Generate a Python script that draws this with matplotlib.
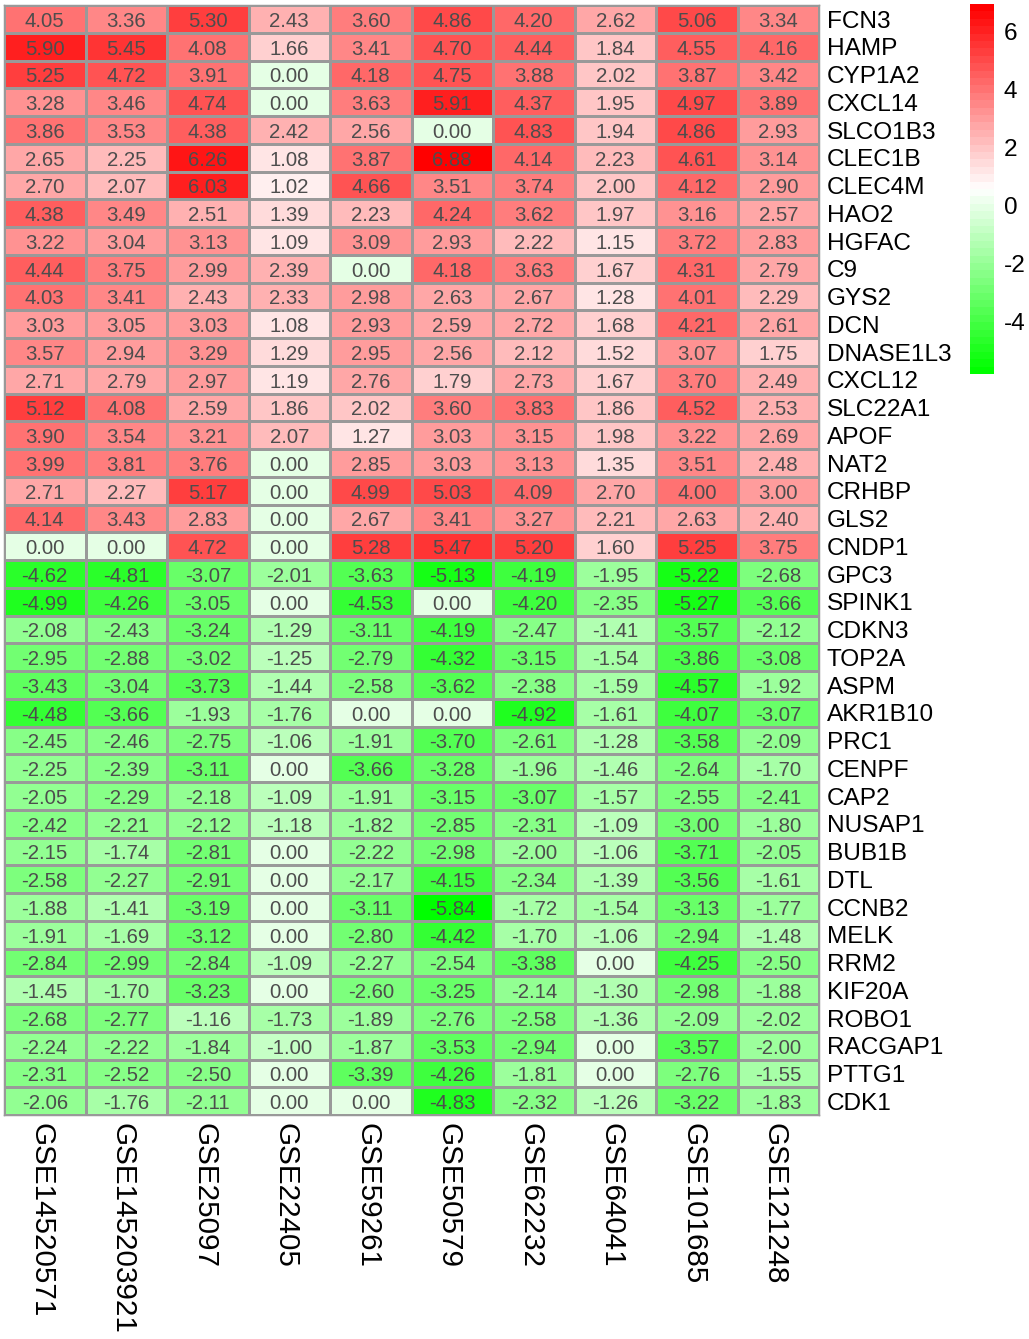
import matplotlib
matplotlib.use('Agg')
import matplotlib.pyplot as plt
from matplotlib.colors import LinearSegmentedColormap, BoundaryNorm
from matplotlib.transforms import ScaledTranslation
import numpy as np

plt.rcParams['font.family'] = ['Liberation Sans', 'DejaVu Sans']

genes = ['FCN3', 'HAMP', 'CYP1A2', 'CXCL14', 'SLCO1B3', 'CLEC1B', 'CLEC4M', 'HAO2',
         'HGFAC', 'C9', 'GYS2', 'DCN', 'DNASE1L3', 'CXCL12', 'SLC22A1', 'APOF',
         'NAT2', 'CRHBP', 'GLS2', 'CNDP1', 'GPC3', 'SPINK1', 'CDKN3', 'TOP2A',
         'ASPM', 'AKR1B10', 'PRC1', 'CENPF', 'CAP2', 'NUSAP1', 'BUB1B', 'DTL',
         'CCNB2', 'MELK', 'RRM2', 'KIF20A', 'ROBO1', 'RACGAP1', 'PTTG1', 'CDK1']

datasets = ['GSE14520571', 'GSE145203921', 'GSE25097', 'GSE22405', 'GSE59261',
            'GSE50579', 'GSE62232', 'GSE64041', 'GSE101685', 'GSE121248']

logfc = [
    [4.05, 3.36, 5.30, 2.43, 3.60, 4.86, 4.20, 2.62, 5.06, 3.34],
    [5.90, 5.45, 4.08, 1.66, 3.41, 4.70, 4.44, 1.84, 4.55, 4.16],
    [5.25, 4.72, 3.91, 0.00, 4.18, 4.75, 3.88, 2.02, 3.87, 3.42],
    [3.28, 3.46, 4.74, 0.00, 3.63, 5.91, 4.37, 1.95, 4.97, 3.89],
    [3.86, 3.53, 4.38, 2.42, 2.56, 0.00, 4.83, 1.94, 4.86, 2.93],
    [2.65, 2.25, 6.26, 1.08, 3.87, 6.88, 4.14, 2.23, 4.61, 3.14],
    [2.70, 2.07, 6.03, 1.02, 4.66, 3.51, 3.74, 2.00, 4.12, 2.90],
    [4.38, 3.49, 2.51, 1.39, 2.23, 4.24, 3.62, 1.97, 3.16, 2.57],
    [3.22, 3.04, 3.13, 1.09, 3.09, 2.93, 2.22, 1.15, 3.72, 2.83],
    [4.44, 3.75, 2.99, 2.39, 0.00, 4.18, 3.63, 1.67, 4.31, 2.79],
    [4.03, 3.41, 2.43, 2.33, 2.98, 2.63, 2.67, 1.28, 4.01, 2.29],
    [3.03, 3.05, 3.03, 1.08, 2.93, 2.59, 2.72, 1.68, 4.21, 2.61],
    [3.57, 2.94, 3.29, 1.29, 2.95, 2.56, 2.12, 1.52, 3.07, 1.75],
    [2.71, 2.79, 2.97, 1.19, 2.76, 1.79, 2.73, 1.67, 3.70, 2.49],
    [5.12, 4.08, 2.59, 1.86, 2.02, 3.60, 3.83, 1.86, 4.52, 2.53],
    [3.90, 3.54, 3.21, 2.07, 1.27, 3.03, 3.15, 1.98, 3.22, 2.69],
    [3.99, 3.81, 3.76, 0.00, 2.85, 3.03, 3.13, 1.35, 3.51, 2.48],
    [2.71, 2.27, 5.17, 0.00, 4.99, 5.03, 4.09, 2.70, 4.00, 3.00],
    [4.14, 3.43, 2.83, 0.00, 2.67, 3.41, 3.27, 2.21, 2.63, 2.40],
    [0.00, 0.00, 4.72, 0.00, 5.28, 5.47, 5.20, 1.60, 5.25, 3.75],
    [-4.62, -4.81, -3.07, -2.01, -3.63, -5.13, -4.19, -1.95, -5.22, -2.68],
    [-4.99, -4.26, -3.05, 0.00, -4.53, 0.00, -4.20, -2.35, -5.27, -3.66],
    [-2.08, -2.43, -3.24, -1.29, -3.11, -4.19, -2.47, -1.41, -3.57, -2.12],
    [-2.95, -2.88, -3.02, -1.25, -2.79, -4.32, -3.15, -1.54, -3.86, -3.08],
    [-3.43, -3.04, -3.73, -1.44, -2.58, -3.62, -2.38, -1.59, -4.57, -1.92],
    [-4.48, -3.66, -1.93, -1.76, 0.00, 0.00, -4.92, -1.61, -4.07, -3.07],
    [-2.45, -2.46, -2.75, -1.06, -1.91, -3.70, -2.61, -1.28, -3.58, -2.09],
    [-2.25, -2.39, -3.11, 0.00, -3.66, -3.28, -1.96, -1.46, -2.64, -1.70],
    [-2.05, -2.29, -2.18, -1.09, -1.91, -3.15, -3.07, -1.57, -2.55, -2.41],
    [-2.42, -2.21, -2.12, -1.18, -1.82, -2.85, -2.31, -1.09, -3.00, -1.80],
    [-2.15, -1.74, -2.81, 0.00, -2.22, -2.98, -2.00, -1.06, -3.71, -2.05],
    [-2.58, -2.27, -2.91, 0.00, -2.17, -4.15, -2.34, -1.39, -3.56, -1.61],
    [-1.88, -1.41, -3.19, 0.00, -3.11, -5.84, -1.72, -1.54, -3.13, -1.77],
    [-1.91, -1.69, -3.12, 0.00, -2.80, -4.42, -1.70, -1.06, -2.94, -1.48],
    [-2.84, -2.99, -2.84, -1.09, -2.27, -2.54, -3.38, 0.00, -4.25, -2.50],
    [-1.45, -1.70, -3.23, 0.00, -2.60, -3.25, -2.14, -1.30, -2.98, -1.88],
    [-2.68, -2.77, -1.16, -1.73, -1.89, -2.76, -2.58, -1.36, -2.09, -2.02],
    [-2.24, -2.22, -1.84, -1.00, -1.87, -3.53, -2.94, 0.00, -3.57, -2.00],
    [-2.31, -2.52, -2.50, 0.00, -3.39, -4.26, -1.81, 0.00, -2.76, -1.55],
    [-2.06, -1.76, -2.11, 0.00, 0.00, -4.83, -2.32, -1.26, -3.22, -1.83],
]

cbar_ticks = [-4, -2, 0, 2, 4, 6]

W, H = 1029, 1339
DPI = 100
GRID = '#999999'


def place(x0, y0, x1, y1):
    # pixel box, y measured from the top of the image
    return [x0 / W, 1 - y1 / H, (x1 - x0) / W, (y1 - y0) / H]


def nudge(labels, dx, dy):
    # shift tick labels by some pixels, dy positive is up
    off = ScaledTranslation(dx / DPI, dy / DPI, fig.dpi_scale_trans)
    for lab in labels:
        lab.set_transform(lab.get_transform() + off)


mat = np.array(logfc)
cmap = LinearSegmentedColormap.from_list('gwr', ['#00ff00', '#ffffff', '#ff0000'], N=50)
breaks = np.linspace(mat.min(), mat.max(), 51)
norm = BoundaryNorm(breaks, 50)

fig = plt.figure(figsize=(W / DPI, H / DPI), dpi=DPI)

ax = fig.add_axes(place(4, 5, 819, 1115))
ax.pcolormesh(mat, cmap=cmap, norm=norm, edgecolors=GRID, linewidth=1.05)
ax.set_xlim(0, mat.shape[1])
ax.set_ylim(mat.shape[0], 0)
for i in range(mat.shape[0]):
    for j in range(mat.shape[1]):
        ax.text(j + 0.5, i + 0.52, '%.2f' % mat[i, j], ha='center', va='center_baseline',
                fontsize=14.7, color='#4d4d4d')

ax.yaxis.tick_right()
ax.set_yticks(np.arange(len(genes)) + 0.5)
ax.set_yticklabels(genes, fontsize=17.6, color='black')
ax.set_xticks(np.arange(len(datasets)) + 0.5)
ax.set_xticklabels(datasets, fontsize=21.3, rotation=270, ha='center', va='top', color='black')
ax.tick_params(axis='y', length=0, pad=5.5)
ax.tick_params(axis='x', length=0, pad=6)
nudge(ax.get_xticklabels(), -3.5, 0)
nudge(ax.get_yticklabels(), 0, -0.3)
for s in ax.spines.values():
    s.set_color(GRID)
    s.set_linewidth(1.05)

cax = fig.add_axes(place(970, 4, 994, 374))
cax.pcolormesh([0, 1], breaks, np.array(breaks[:-1]).reshape(-1, 1), cmap=cmap, norm=norm)
cax.set_xticks([])
cax.yaxis.tick_right()
cax.set_yticks(cbar_ticks)
cax.set_yticklabels([str(t) for t in cbar_ticks], fontsize=17.6)
cax.tick_params(axis='y', length=0, pad=5.5)
nudge(cax.get_yticklabels(), 2, -1.5)
for s in cax.spines.values():
    s.set_visible(False)

fig.savefig('out.png', dpi=DPI)
